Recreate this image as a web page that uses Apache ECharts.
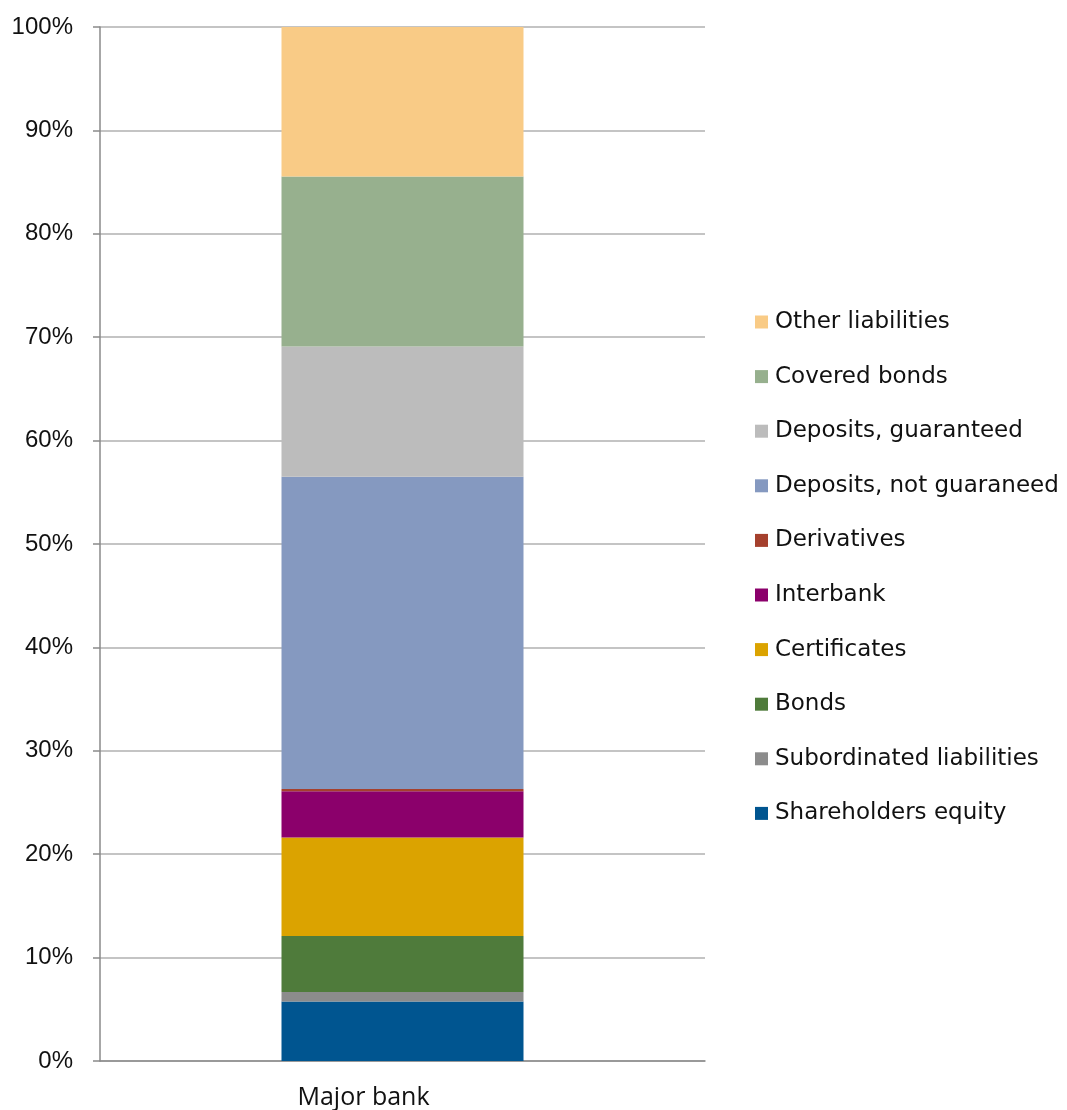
<!DOCTYPE html>
<html>
<head>
<meta charset="utf-8">
<script src="https://cdn.jsdelivr.net/npm/echarts@6/dist/echarts.min.js"></script>
<style>
  html, body { margin: 0; padding: 0; background: #fff; }
  #chart { width: 1067px; height: 1110px; }
</style>
</head>
<body>
<div id="chart"></div>
<script>
// categories
const categories = ['Major bank'];

// series names, bottom of the stack first
const seriesNames = [
  'Shareholders equity',
  'Subordinated liabilities',
  'Bonds',
  'Certificates',
  'Interbank',
  'Derivatives',
  'Deposits, not guaraneed',
  'Deposits, guaranteed',
  'Covered bonds',
  'Other liabilities'
];

// share of total (%)
const shareholdersEquity = [5.75];
const subordinated = [0.93];
const bonds = [5.42];
const certificates = [9.52];
const interbank = [4.48];
const derivatives = [0.2];
const depositsNotGuaranteed = [30.2];
const depositsGuaranteed = [12.6];
const coveredBonds = [16.45];
const otherLiabilities = [14.45];

const seriesValues = [
  shareholdersEquity, subordinated, bonds, certificates, interbank,
  derivatives, depositsNotGuaranteed, depositsGuaranteed, coveredBonds, otherLiabilities
];

const colors = [
  '#005590', '#8c8c8c', '#4f7b3b', '#dba300', '#8b006b',
  '#a5402d', '#8599c0', '#bcbcbc', '#97b08e', '#f9cb86'
];

// y axis tick labels
const yTicks = [0, 10, 20, 30, 40, 50, 60, 70, 80, 90, 100];

const chart = echarts.init(document.getElementById('chart'));

chart.setOption({
  animation: false,
  grid: { left: 100, right: 362, top: 27, bottom: 49 },
  legend: {
    orient: 'vertical',
    left: 750,
    top: 303,
    itemWidth: 13,
    itemHeight: 13,
    itemGap: 26.6,
    icon: 'rect',
    data: seriesNames.slice().reverse(),
    textStyle: {
      fontFamily: 'DejaVu Sans, sans-serif',
      fontSize: 23,
      lineHeight: 28,
      padding: [0, 0, 0, 2],
      color: '#111'
    }
  },
  xAxis: {
    type: 'category',
    data: categories,
    axisLine: { lineStyle: { color: '#8a8a8a', width: 1.5 } },
    axisTick: { length: 8, lineStyle: { color: '#8a8a8a', width: 1.5 } },
    axisLabel: {
      margin: 24,
      fontFamily: 'Open Sans, Noto Sans, sans-serif',
      fontSize: 25,
      color: '#111',
      padding: [0, 78, 0, 0]
    }
  },
  yAxis: {
    type: 'value',
    min: 0,
    max: 100,
    interval: 10,
    axisLine: { show: true, lineStyle: { color: '#8a8a8a', width: 1.5 } },
    axisTick: { show: true, length: 7, lineStyle: { color: '#8a8a8a', width: 1.5 } },
    splitLine: { lineStyle: { color: '#b0b0b0', width: 1.5 } },
    axisLabel: {
      margin: 27,
      fontFamily: 'Liberation Sans, Arial, sans-serif',
      fontSize: 24,
      color: '#111',
      formatter: function (v) {
        return yTicks.indexOf(v) >= 0 ? v + '%' : '';
      }
    }
  },
  series: seriesNames.map(function (name, i) {
    return {
      name: name,
      type: 'bar',
      stack: 'total',
      barWidth: 242,
      data: seriesValues[i],
      itemStyle: { color: colors[i] }
    };
  })
});
</script>
</body>
</html>
